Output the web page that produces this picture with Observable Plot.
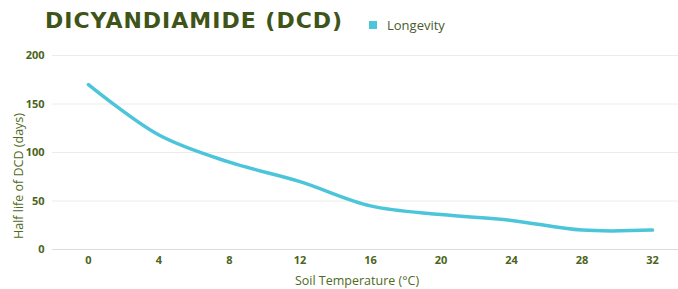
<!DOCTYPE html>
<html>
<head>
<meta charset="utf-8">
<script src="https://cdn.jsdelivr.net/npm/d3@7"></script>
<script src="https://cdn.jsdelivr.net/npm/@observablehq/plot@0.6"></script>
<style>
  html, body { margin: 0; padding: 0; background: #fff; }
  #wrap { position: relative; width: 678px; height: 289px; overflow: hidden; }
  #title { position: absolute; left: 45px; top: 8px; font-family: "DejaVu Sans", sans-serif; font-weight: bold; font-size: 22px; letter-spacing: 1px; color: #3e5418; white-space: nowrap; }
  #legend { position: absolute; left: 369px; top: 16px; font-family: "Open Sans", sans-serif; font-size: 13px; color: #4a5a2e; display: flex; align-items: center; white-space: nowrap; }
  #legend .sw { width: 8px; height: 8px; background: #4cc5da; margin-right: 10px; }
  #ylab { position: absolute; left: 18px; top: 176px; transform: translate(-50%, -50%) rotate(-90deg); font-family: "Open Sans", sans-serif; font-size: 12.5px; color: #4f6a24; white-space: nowrap; }
  #xlab { position: absolute; left: 357px; top: 280px; transform: translate(-50%, -50%); font-family: "Open Sans", sans-serif; font-size: 12.5px; line-height: 15px; color: #4f6a24; white-space: nowrap; }
  #chart { position: absolute; left: 0; top: 0; }
</style>
</head>
<body>
<div id="wrap">
  <div id="chart"></div>
  <div id="title">DICYANDIAMIDE (DCD)</div>
  <div id="legend"><span class="sw"></span><span>Longevity</span></div>
  <div id="ylab">Half life of DCD (days)</div>
  <div id="xlab">Soil Temperature (°C)</div>
</div>
<script>
const temperatures = [0, 4, 8, 12, 16, 20, 24, 28, 32];
const halfLife = [170, 118, 90, 70, 45, 36, 30, 20, 20];
const yTicks = [0, 50, 100, 150, 200];
const xTicks = [0, 4, 8, 12, 16, 20, 24, 28, 32];

const data = temperatures.map((t, i) => ({t, v: halfLife[i]}));

const chart = Plot.plot({
  width: 678,
  height: 289,
  marginLeft: 52,
  marginRight: 0,
  marginTop: 55,
  marginBottom: 40,
  style: {fontFamily: "Open Sans, sans-serif", background: "transparent"},
  x: {domain: [-2.04, 33.475], ticks: xTicks, label: null},
  y: {domain: [0, 200], ticks: yTicks, label: null},
  marks: [
    Plot.ruleY(yTicks.filter(d => d !== 0), {stroke: "#ecece6", strokeWidth: 1}),
    Plot.ruleY([0], {stroke: "#dcdcd4", strokeWidth: 1.2}),
    Plot.axisY({ticks: yTicks, tickSize: 0, tickPadding: 8, label: null, fontSize: 11, fontWeight: "bold", fill: "#4b6420"}),
    Plot.axisX({ticks: xTicks, tickSize: 0, tickPadding: 7, label: null, fontSize: 11, fontWeight: "bold", fill: "#4b6420"}),
    Plot.line(data, {x: "t", y: "v", stroke: "#4cc5da", strokeWidth: 3.5, curve: "catmull-rom", strokeLinecap: "round"})
  ]
});
document.getElementById("chart").appendChild(chart);
</script>
</body>
</html>
